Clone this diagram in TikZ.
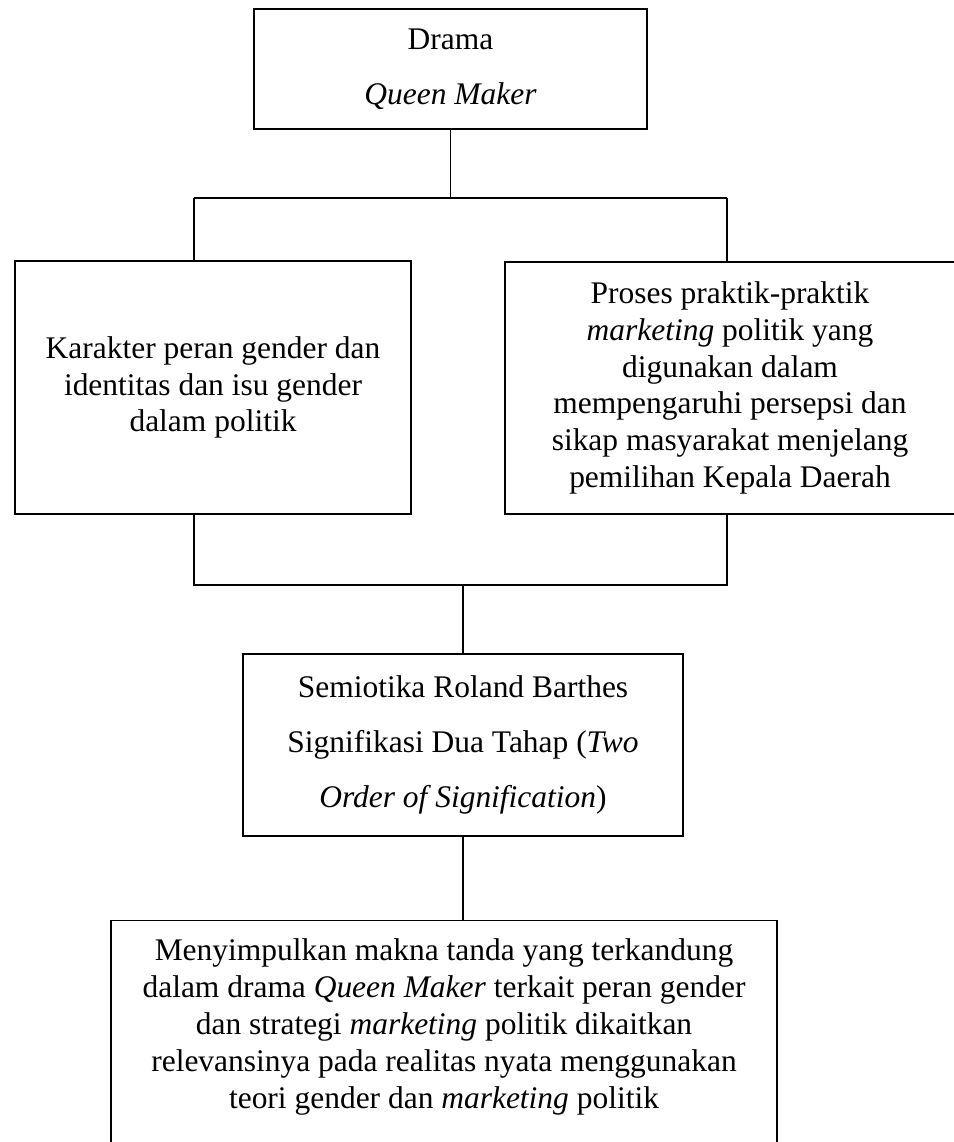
\documentclass[tikz,border=0pt]{standalone}
\usepackage{fontspec}
\setmainfont{Liberation Serif}
\usepackage{tikz}
\usetikzlibrary{calc}

\tikzset{
  kotak/.style={draw, line width=1pt, align=center, inner sep=0pt},
  garis/.style={line width=1pt},
  satuspasi/.style={font={\fontsize{23.6}{27.6}\selectfont}},
  duaspasi/.style={font={\fontsize{23.6}{41.25}\selectfont}},
}

\begin{document}
\begin{tikzpicture}[x=0.75pt, y=-0.75pt, satuspasi]
\useasboundingbox[fill=white] (0,0) rectangle (953,1142);

\node[kotak, duaspasi, minimum width=294.75pt, minimum height=90pt] (drama) at (450.5,69) {Drama\\\textit{Queen Maker}};
\node[kotak, minimum width=297pt, minimum height=189.75pt] (karakter) at (213,387.5) {Karakter peran gender dan\\identitas dan isu gender\\dalam politik};
\node[kotak, minimum width=337.5pt, minimum height=189pt] (proses) at (730,388) {Proses praktik-praktik\\\textit{marketing} politik yang\\digunakan dalam\\mempengaruhi persepsi dan\\sikap masyarakat menjelang\\pemilihan Kepala Daerah};
\node[kotak, duaspasi, minimum width=330pt, minimum height=136.5pt] (semiotika) at (463,745) {Semiotika Roland Barthes\\Signifikasi Dua Tahap (\textit{Two}\\\textit{Order of Signification})};
\node[kotak, minimum width=499.5pt, minimum height=187.5pt, anchor=north] (simpul) at (444,920) {};
\node[align=center, inner sep=0pt] (simpulteks) at (444,1027) {Menyimpulkan makna tanda yang terkandung\\dalam drama \textit{Queen Maker} terkait peran gender\\dan strategi \textit{marketing} politik dikaitkan\\relevansinya pada realitas nyata menggunakan\\teori gender dan \textit{marketing} politik};

\coordinate (atasL) at (194,198);
\coordinate (atasR) at (727,198);
\coordinate (bawahL) at (194,585);
\coordinate (bawahR) at (727,585);

\draw[garis] (drama.south) -- (drama.south |- atasL);
\draw[garis] (atasL) -- (atasR);
\draw[garis] (atasL) -- (atasL |- karakter.north);
\draw[garis] (atasR) -- (atasR |- proses.north);
\draw[garis] (bawahL |- karakter.south) -- (bawahL) -- (bawahR) -- (bawahR |- proses.south);
\draw[garis] (semiotika.north |- bawahL) -- (semiotika.north);
\draw[garis] (semiotika.south) -- (semiotika.south |- simpul.north);
\end{tikzpicture}
\end{document}
